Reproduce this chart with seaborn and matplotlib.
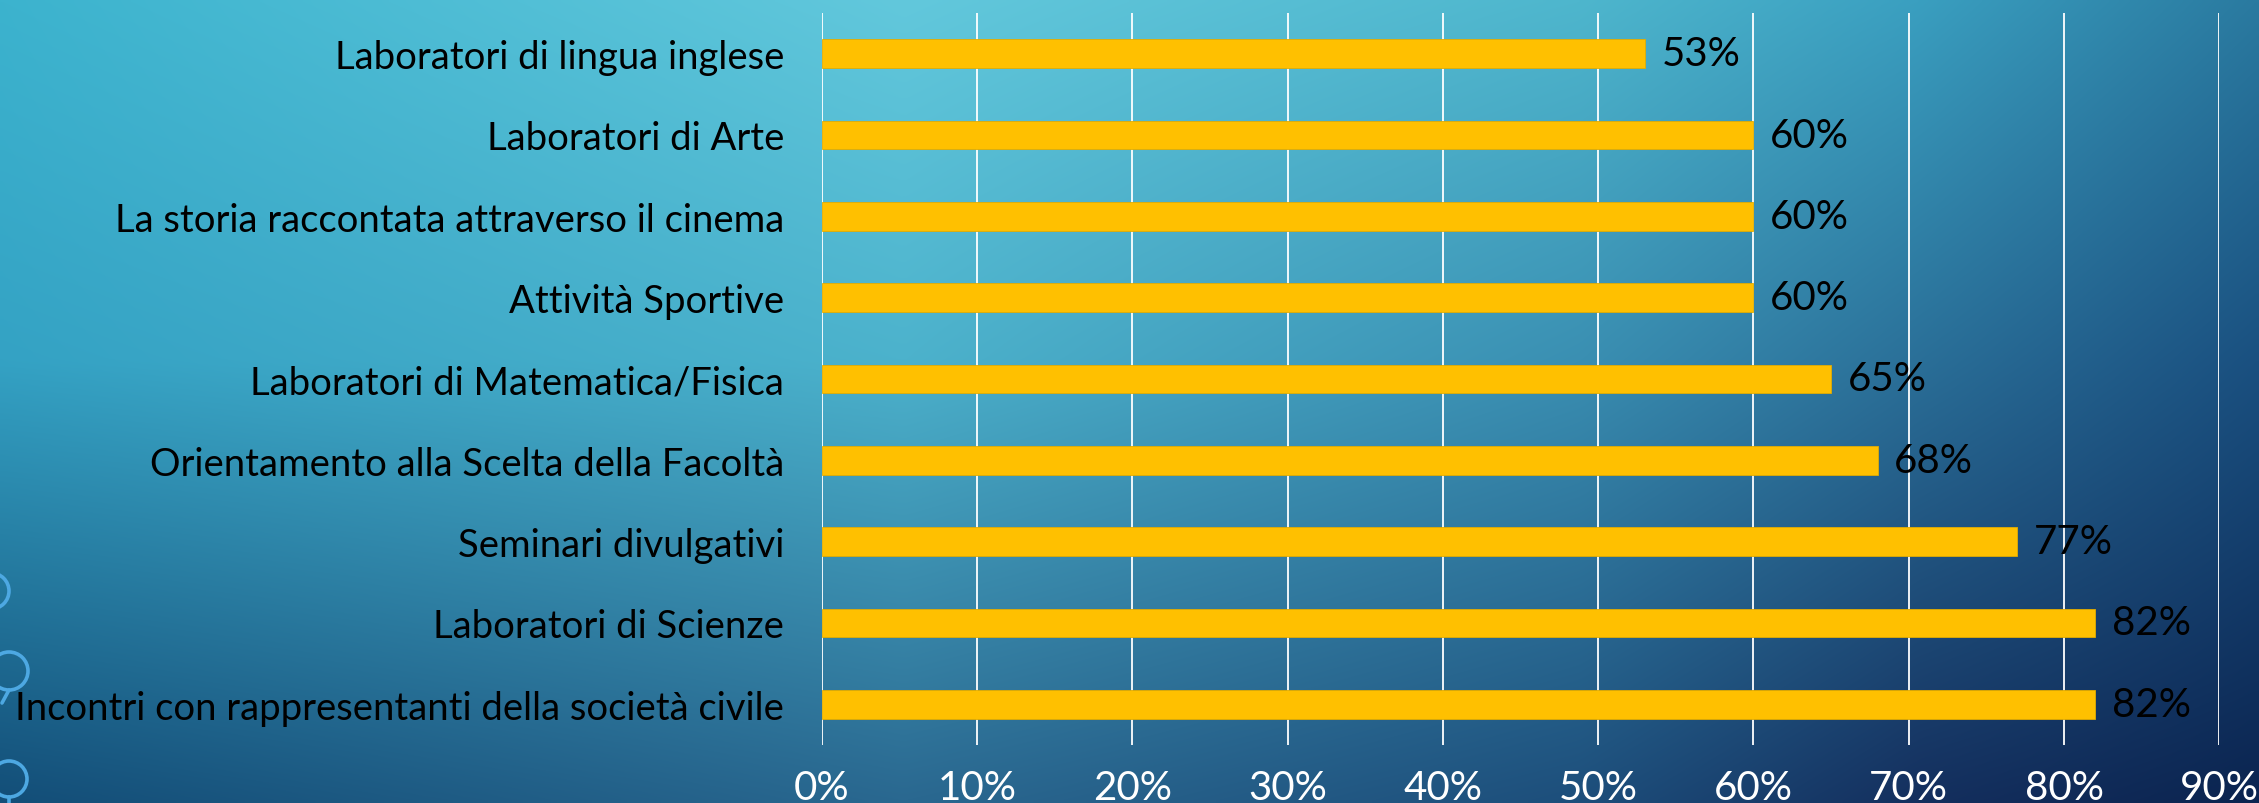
import numpy as np
import pandas as pd
import matplotlib
matplotlib.use("Agg")
import matplotlib.pyplot as plt
import seaborn as sns
from matplotlib.colors import to_rgb
from matplotlib.patches import Circle

# ---- data ----
categories = [
    "Laboratori di lingua inglese",
    "Laboratori di Arte",
    "La storia raccontata attraverso il cinema",
    "Attività Sportive",
    "Laboratori di Matematica/Fisica",
    "Orientamento alla Scelta della Facoltà",
    "Seminari divulgativi",
    "Laboratori di Scienze",
    "Incontri con rappresentanti della società civile",
]
values = [53, 60, 60, 60, 65, 68, 77, 82, 82]
x_ticks = [0, 10, 20, 30, 40, 50, 60, 70, 80, 90]
x_tick_labels = [f"{t}%" for t in x_ticks]
value_labels = [f"{v}%" for v in values]

sns.set_style("white")
plt.rcParams["font.family"] = ["Lato", "DejaVu Sans"]

W, H = 2259, 804
fig = plt.figure(figsize=(W / 100, H / 100), dpi=100)

# ---- background gradient (decoration) ----
gx = [0.0, 0.4, 0.7, 0.85, 1.0]
gy = [0.0, 0.45, 1.0]
grid_cols = [
    ["#3cb3ce", "#62c8dc", "#4eb6cd", "#3a9fc0", "#2a7aa0"],
    ["#34a2c4", "#4cb2cc", "#3a8fb2", "#2a6f98", "#1a5080"],
    ["#134e78", "#2a6890", "#1d4e7b", "#142f5e", "#0b2450"],
]
nx, ny = 450, 160
xs = np.linspace(0, 1, nx)
ys = np.linspace(0, 1, ny)
rows = np.array([[to_rgb(c) for c in r] for r in grid_cols])
tmp = np.zeros((len(gy), nx, 3))
for i in range(len(gy)):
    for ch in range(3):
        tmp[i, :, ch] = np.interp(xs, gx, rows[i, :, ch])
img = np.zeros((ny, nx, 3))
for j in range(nx):
    for ch in range(3):
        img[:, j, ch] = np.interp(ys, gy, tmp[:, j, ch])

bg = fig.add_axes([0, 0, 1, 1], zorder=-10)
bg.imshow(img, aspect="auto", extent=(0, W, H, 0), interpolation="bilinear")
bg.set_xlim(0, W)
bg.set_ylim(H, 0)
bg.axis("off")
ring = "#4da8e2"
for (cx, cy, r) in [(-9, 592, 18), (9, 672, 19), (9, 780, 18)]:
    bg.add_patch(Circle((cx, cy), r, fill=False, edgecolor=ring, lw=2.6))
bg.plot([9, 2], [691, 704], color=ring, lw=2.6)
bg.plot([9, 9], [798, 806], color=ring, lw=2.6)

# ---- chart ----
ax = fig.add_axes([821.7 / W, 1 - 746 / H, (2219.3 - 821.7) / W, (746 - 14) / H])
ax.patch.set_alpha(0)
df = pd.DataFrame({"cat": categories, "val": values})
sns.barplot(data=df, x="val", y="cat", orient="h", color="#FFC000",
            saturation=1, width=0.355, ax=ax, edgecolor="#E3AC00", linewidth=0.6)
ax.set_xlim(0, 90)
ax.set_ylim(8.5, -0.5)
ax.set_xticks(x_ticks)
ax.set_xticklabels(x_tick_labels, color="white", fontsize=29)
ax.tick_params(axis="x", length=0, pad=17)
ax.tick_params(axis="y", length=0, pad=27, labelsize=27.5, labelcolor="black")
ax.set_xlabel("")
ax.set_ylabel("")
ax.grid(axis="x", color="white", lw=1.3)
ax.grid(axis="y", visible=False)
ax.set_axisbelow(True)
for s in ax.spines.values():
    s.set_visible(False)
ax.bar_label(ax.containers[0], labels=value_labels, padding=12, fontsize=29, color="black")

fig.savefig("out.png", dpi=100)
